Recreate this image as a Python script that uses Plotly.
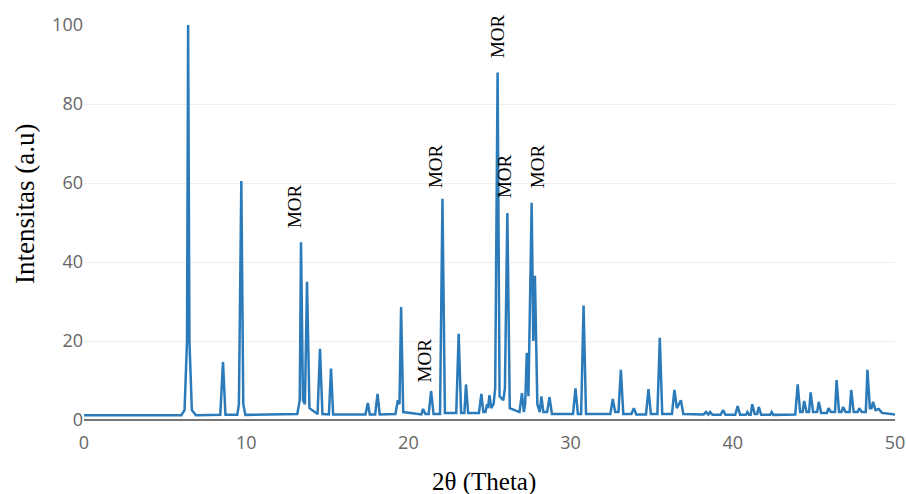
import plotly.graph_objects as go

# Diffraction pattern (2-theta in degrees, intensity in a.u.)
theta = [
    0, 6.0, 6.2, 6.35, 6.42, 6.5, 6.65, 6.9,
    8.4, 8.57, 8.72, 9.45, 9.55, 9.7, 9.82, 9.95,
    13.15, 13.3, 13.38, 13.5, 13.62, 13.75, 13.9, 14.4, 14.55, 14.7,
    15.1, 15.23, 15.36, 17.35, 17.5, 17.62, 17.95, 18.1, 18.23,
    19.2, 19.35, 19.45, 19.55, 19.68, 20.8, 20.9, 21.05, 21.25, 21.4, 21.55,
    21.95, 22.1, 22.25, 22.95, 23.1, 23.25, 23.45, 23.55, 23.68,
    24.35, 24.5, 24.62, 24.75, 24.85, 24.9, 25.0, 25.1, 25.25, 25.35, 25.5, 25.62,
    25.85, 25.95, 26.1, 26.25, 26.85, 27.0, 27.12, 27.2, 27.3, 27.4, 27.6, 27.7,
    27.8, 27.95, 28.1, 28.2, 28.32, 28.55, 28.7, 28.85,
    30.15, 30.3, 30.45, 30.65, 30.8, 30.95, 32.45, 32.6, 32.75, 32.95, 33.1, 33.25,
    33.75, 33.9, 34.05, 34.65, 34.8, 34.95, 35.35, 35.5, 35.65, 36.25, 36.4, 36.55,
    36.8, 36.95, 38.2, 38.35, 38.5, 38.6, 38.75, 39.25, 39.4, 39.55, 40.15, 40.3,
    40.45, 40.8, 40.9, 41.0, 41.1, 41.2, 41.35, 41.5, 41.6, 41.75, 42.3, 42.4, 42.5,
    43.85, 44.0, 44.15, 44.3, 44.4, 44.55, 44.7, 44.8, 44.95, 45.2, 45.3, 45.45,
    45.8, 45.9, 46.05, 46.3, 46.4, 46.55, 46.7, 46.8, 46.95, 47.2, 47.3, 47.45,
    47.7, 47.8, 47.95, 48.2, 48.3, 48.45, 48.55, 48.65, 48.8, 49.0, 49.2, 49.5,
    49.8, 50,
]
intensity = [
    1.2, 1.2, 2.5, 20, 100, 20, 2.5, 1.2,
    1.3, 14.7, 1.3, 1.3, 4, 60.5, 4, 1.3,
    1.5, 5, 45, 5, 4, 35, 3, 1.5, 18, 1.5,
    1.4, 13, 1.4, 1.4, 4.3, 1.4, 1.4, 6.6, 1.4,
    1.5, 5, 4, 28.6, 2, 1.4, 2.8, 1.5, 1.5, 7.3, 1.5,
    1.5, 56, 1.8, 1.8, 21.8, 1.8, 1.8, 9, 1.8,
    1.8, 6.6, 2, 2, 4, 3, 6.3, 3, 4, 8, 88, 6,
    5, 8, 52.4, 3, 2, 6.8, 2, 4, 17, 6, 55, 20,
    36.5, 4, 2, 6, 2, 2, 5.8, 1.5,
    1.5, 8, 1.5, 1.5, 29, 1.5, 1.5, 5.3, 2, 2, 12.7, 1.5,
    1.5, 3, 1.4, 1.4, 7.8, 1.5, 1.5, 20.8, 1.5, 1.5, 7.6, 3,
    5, 1.5, 1.4, 2, 1.4, 2, 1.3, 1.3, 2.5, 1.3, 1.3, 3.5,
    1.3, 1.3, 2, 1.3, 1.3, 4, 1.5, 1.5, 3.3, 1.3, 1.3, 2, 1.3,
    1.4, 9, 2, 2, 4.8, 2, 2, 7, 2, 2, 4.6, 1.8,
    1.8, 3, 2, 2, 10.1, 2, 2, 3.3, 2, 2, 7.6, 2,
    2, 3, 2, 2, 12.7, 3, 3, 4.6, 2.5, 2.8, 1.8, 1.6,
    1.4, 1.4,
]

# Peak labels (label centre x, label bottom y, in data units)
label_x = [12.95, 21.0, 21.64, 25.46, 25.96, 27.93]
label_y = [48.1, 8.9, 58.2, 91.1, 55.7, 58.2]
label_text = ["MOR"] * 6

x_ticks = [0, 10, 20, 30, 40, 50]
y_ticks = [0, 20, 40, 60, 80, 100]

x_title = "2θ (Theta)"
y_title = "Intensitas (a.u)"

W, H = 906, 494
PL, PR, PT, PB = 84, 11, 25, 74

fig = go.Figure()
fig.add_trace(go.Scatter(
    x=theta, y=intensity, mode="lines",
    line=dict(color="#2b7bba", width=2.5),
    showlegend=False, hoverinfo="skip",
))

for lx, ly, lt in zip(label_x, label_y, label_text):
    fig.add_annotation(
        x=lx, y=ly, xref="x", yref="y", text=lt, showarrow=False,
        textangle=-90, xanchor="center", yanchor="bottom",
        font=dict(family="Liberation Serif", size=19, color="black"),
    )


def px_to_paper(px, py):
    fx = (px - PL) / (W - PL - PR)
    fy = 1 - (py - PT) / (H - PT - PB)
    return fx, fy


tx, ty = px_to_paper(484, 482)
fig.add_annotation(
    x=tx, y=ty, xref="paper", yref="paper", text=x_title, showarrow=False,
    xanchor="center", yanchor="middle",
    font=dict(family="Liberation Serif", size=25, color="black"),
)
tx, ty = px_to_paper(25, 204)
fig.add_annotation(
    x=tx, y=ty, xref="paper", yref="paper", text=y_title, showarrow=False,
    textangle=-90, xanchor="center", yanchor="middle",
    font=dict(family="Liberation Serif", size=27, color="black"),
)

fig.update_layout(
    width=W, height=H,
    margin=dict(l=PL, r=PR, t=PT, b=PB),
    paper_bgcolor="white", plot_bgcolor="white",
    font=dict(family="Open Sans", color="#666"),
    hovermode=False,
)
fig.update_xaxes(
    range=[0, 50], tickvals=x_ticks, showgrid=False, zeroline=False,
    showline=False, automargin=False, ticklabeloverflow="allow",
    ticks="outside", ticklen=6, tickcolor="rgba(0,0,0,0)",
    tickfont=dict(size=18, color="#666"),
)
fig.update_yaxes(
    range=[0, 100], tickvals=y_ticks, showgrid=True, gridcolor="#eeeeee",
    zeroline=True, zerolinecolor="#777", zerolinewidth=2, automargin=False,
    tickfont=dict(size=18, color="#666"),
)

# remove the page's default body margin so the figure fills the window exactly
fig.write_html(
    "out.html",
    config={"displayModeBar": False},
    post_script="document.body.style.margin='0';document.body.style.overflow='hidden';",
)
